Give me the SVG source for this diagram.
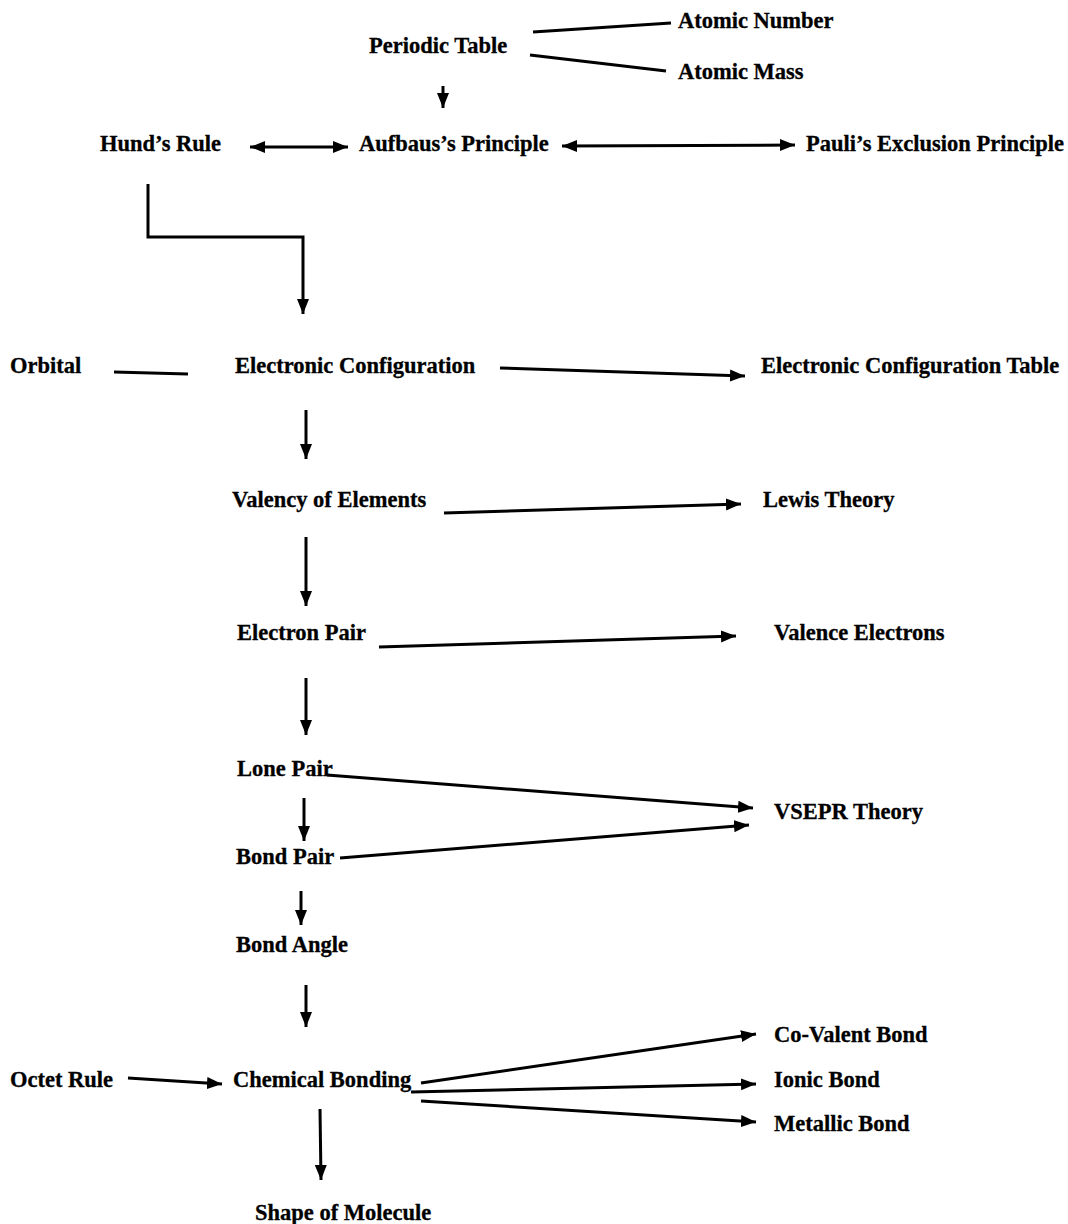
<svg xmlns="http://www.w3.org/2000/svg" width="1068" height="1224" viewBox="0 0 1068 1224">
<style>
text{font-family:"Liberation Serif","Times New Roman",serif;font-weight:bold;font-size:22.5px;fill:#000;stroke:#000;stroke-width:0.3}
.c line,.c polyline{stroke:#000;stroke-width:3;fill:none}
</style>
<defs>
<marker id="ah" markerUnits="userSpaceOnUse" markerWidth="18" markerHeight="14" refX="15" refY="7" orient="auto-start-reverse">
<path d="M0,1 L15,7 L0,13 Z" fill="#000"/>
</marker>
</defs>
<rect width="1068" height="1224" fill="#fff"/>
<g class="c" id="connectors">
<line x1="533" y1="32" x2="671" y2="23"/>
<line x1="530" y1="55" x2="666" y2="71"/>
<line x1="443" y1="86" x2="443" y2="108" marker-end="url(#ah)"/>
<line x1="250" y1="147" x2="348" y2="147" marker-start="url(#ah)" marker-end="url(#ah)"/>
<line x1="562" y1="146" x2="795" y2="145" marker-start="url(#ah)" marker-end="url(#ah)"/>
<polyline points="148,184 148,237 303,237 303,314" marker-end="url(#ah)"/>
<line x1="114" y1="372" x2="188" y2="374"/>
<line x1="500" y1="368" x2="745" y2="376" marker-end="url(#ah)"/>
<line x1="306" y1="410" x2="306" y2="459" marker-end="url(#ah)"/>
<line x1="444" y1="513" x2="741" y2="504" marker-end="url(#ah)"/>
<line x1="306" y1="537" x2="306" y2="606" marker-end="url(#ah)"/>
<line x1="379" y1="647" x2="736" y2="636" marker-end="url(#ah)"/>
<line x1="306" y1="678" x2="306" y2="735" marker-end="url(#ah)"/>
<line x1="327" y1="775" x2="753" y2="808" marker-end="url(#ah)"/>
<line x1="304" y1="798" x2="304" y2="841" marker-end="url(#ah)"/>
<line x1="340" y1="858" x2="749" y2="825" marker-end="url(#ah)"/>
<line x1="301" y1="891" x2="301" y2="925" marker-end="url(#ah)"/>
<line x1="306" y1="985" x2="306" y2="1027" marker-end="url(#ah)"/>
<line x1="128" y1="1078" x2="222" y2="1084" marker-end="url(#ah)"/>
<line x1="421" y1="1083" x2="756" y2="1034" marker-end="url(#ah)"/>
<line x1="411" y1="1092" x2="756" y2="1084" marker-end="url(#ah)"/>
<line x1="421" y1="1101" x2="756" y2="1122" marker-end="url(#ah)"/>
<line x1="320" y1="1109" x2="321" y2="1180" marker-end="url(#ah)"/>
</g>
<g id="atomic-number"><text x="678" y="28">Atomic Number</text></g>
<g id="periodic-table"><text x="369" y="53">Periodic Table</text></g>
<g id="atomic-mass"><text x="678" y="79">Atomic Mass</text></g>
<g id="hunds-rule"><text x="100" y="151">Hund’s Rule</text></g>
<g id="aufbau"><text x="359" y="151">Aufbaus’s Principle</text></g>
<g id="pauli"><text x="806" y="151">Pauli’s Exclusion Principle</text></g>
<g id="orbital"><text x="10" y="373">Orbital</text></g>
<g id="electronic-configuration"><text x="235" y="373">Electronic Configuration</text></g>
<g id="electronic-configuration-table"><text x="761" y="373">Electronic Configuration Table</text></g>
<g id="valency"><text x="232" y="507">Valency of Elements</text></g>
<g id="lewis"><text x="763" y="507">Lewis Theory</text></g>
<g id="electron-pair"><text x="237" y="640">Electron Pair</text></g>
<g id="valence-electrons"><text x="774" y="640">Valence Electrons</text></g>
<g id="lone-pair"><text x="237" y="776">Lone Pair</text></g>
<g id="vsepr"><text x="774" y="819">VSEPR Theory</text></g>
<g id="bond-pair"><text x="236" y="864">Bond Pair</text></g>
<g id="bond-angle"><text x="236" y="952">Bond Angle</text></g>
<g id="octet-rule"><text x="10" y="1087">Octet Rule</text></g>
<g id="chemical-bonding"><text x="233" y="1087">Chemical Bonding</text></g>
<g id="covalent"><text x="774" y="1042">Co-Valent Bond</text></g>
<g id="ionic"><text x="774" y="1087">Ionic Bond</text></g>
<g id="metallic"><text x="774" y="1131">Metallic Bond</text></g>
<g id="shape"><text x="255" y="1220">Shape of Molecule</text></g>
</svg>
